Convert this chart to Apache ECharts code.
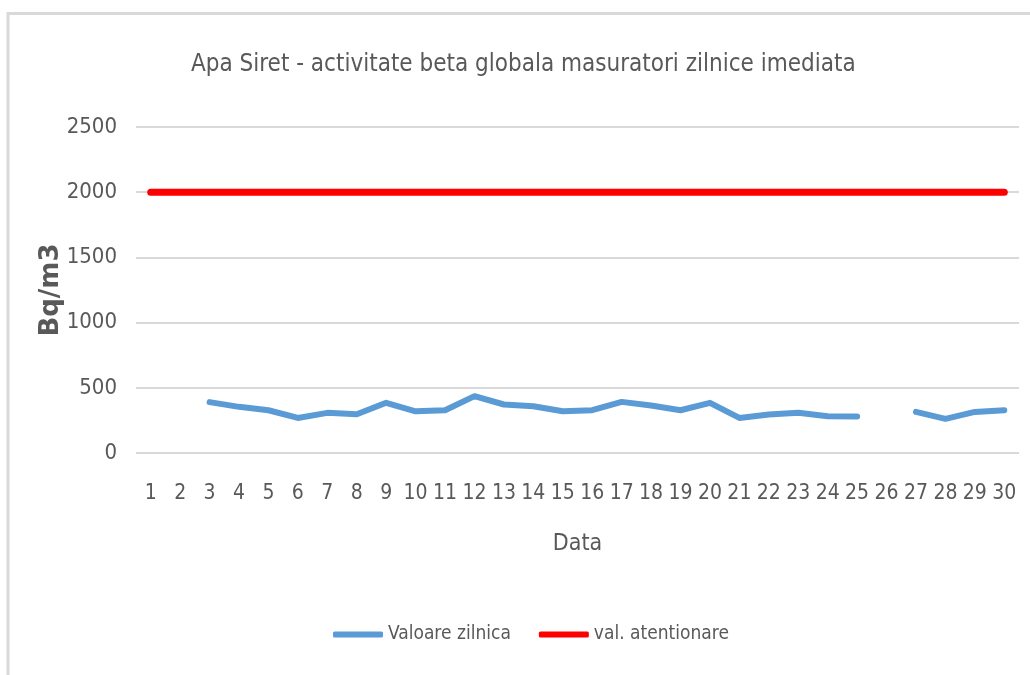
<!DOCTYPE html>
<html>
<head>
<meta charset="utf-8">
<script src="https://cdn.jsdelivr.net/npm/echarts@6/dist/echarts.min.js"></script>
<style>
html,body{margin:0;padding:0;background:#fff;}
#chart{width:1030px;height:675px;}
</style>
</head>
<body>
<div id="chart"></div>
<script>
const titleText = 'Apa Siret - activitate beta globala masuratori zilnice imediata';
const days = ['1','2','3','4','5','6','7','8','9','10','11','12','13','14','15','16','17','18','19','20','21','22','23','24','25','26','27','28','29','30'];
const dailyValues = [null,null,390,354,328,269,308,297,385,320,328,436,372,359,320,328,392,364,328,385,269,295,308,282,280,null,315,262,315,328];
const alertValues = [2000,2000,2000,2000,2000,2000,2000,2000,2000,2000,2000,2000,2000,2000,2000,2000,2000,2000,2000,2000,2000,2000,2000,2000,2000,2000,2000,2000,2000,2000];
const seriesNames = ['Valoare zilnica','val. atentionare'];
const yName = 'Bq/m3';
const xName = 'Data';

const narrow = "'Liberation Sans Narrow','DejaVu Sans Condensed','Roboto Condensed',sans-serif";
const chart = echarts.init(document.getElementById('chart'));
chart.setOption({
  backgroundColor:'#ffffff',
  animation:false,
  graphic:[{type:'rect',shape:{x:8,y:13.5,width:1200,height:1000},style:{fill:'none',stroke:'#d9d9d9',lineWidth:3},silent:true}],
  title:{text:titleText,left:191,top:53,padding:0,textStyle:{fontFamily:narrow,fontSize:24,fontWeight:'normal',color:'#595959'}},
  grid:{left:136,right:11,top:127,bottom:222},
  legend:{
    left:333,top:625,padding:0,itemWidth:50,itemHeight:6,itemGap:28,
    textStyle:{fontFamily:narrow,fontSize:19,color:'#595959'},
    data:[{name:seriesNames[0],icon:'roundRect'},{name:seriesNames[1],icon:'roundRect'}]
  },
  xAxis:{
    type:'category',data:days,boundaryGap:true,
    axisLine:{show:false},axisTick:{show:false},
    axisLabel:{fontFamily:narrow,fontSize:21,color:'#595959',margin:30,interval:0},
    name:xName,nameLocation:'middle',nameGap:80,nameMoveOverlap:false,
    nameTextStyle:{fontFamily:narrow,fontSize:23,color:'#595959'}
  },
  yAxis:{
    type:'value',min:0,max:2500,interval:500,
    axisLine:{show:false},axisTick:{show:false},
    axisLabel:{fontFamily:narrow,fontSize:22,color:'#595959',margin:19,formatter:function(v){return String(v);}},
    splitLine:{lineStyle:{color:'#d9d9d9',width:2}},
    name:yName,nameLocation:'middle',nameRotate:90,nameGap:72,nameMoveOverlap:false,
    nameTextStyle:{fontFamily:"'DejaVu Sans',sans-serif",fontSize:26,fontWeight:'bold',color:'#595959'}
  },
  series:[
    {name:seriesNames[0],type:'line',data:dailyValues,showSymbol:false,symbol:'none',connectNulls:false,
     lineStyle:{color:'#5b9bd5',width:6,cap:'round',join:'round'},itemStyle:{color:'#5b9bd5'}},
    {name:seriesNames[1],type:'line',data:alertValues,showSymbol:false,symbol:'none',
     lineStyle:{color:'#ff0000',width:7,cap:'round',join:'round'},itemStyle:{color:'#ff0000'}}
  ]
});
</script>
</body>
</html>
